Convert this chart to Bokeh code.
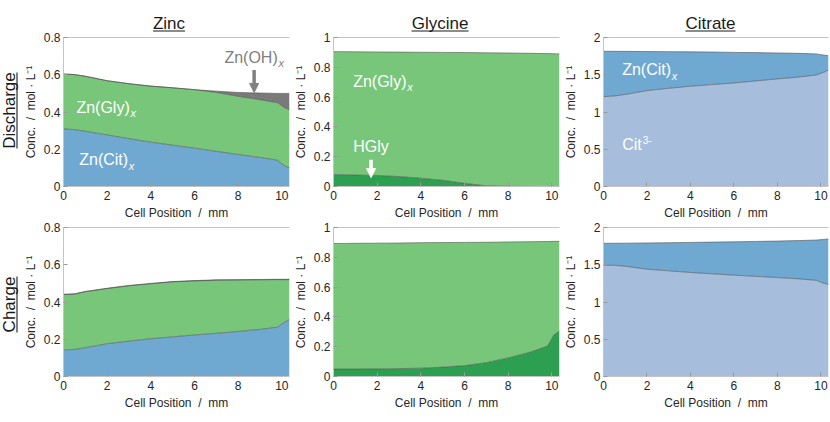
import numpy as np
from bokeh.plotting import figure
from bokeh.models import (ColumnDataSource, Range1d, FixedTicker, CustomJSTickFormatter,
                          Label, Arrow, NormalHead, LinearAxis)
from bokeh.layouts import row, column
from bokeh.transform import stack
from bokeh.core.properties import value
from bokeh.embed import file_html
from bokeh.resources import INLINE

# ---------------- data ----------------
cell_pos = [0, 0.5, 1, 2, 3, 4, 5, 6, 7, 8, 9, 9.8, 10.1, 10.35]

# Zinc species, discharge
dis_zn_cit = [0.310, 0.305, 0.297, 0.277, 0.257, 0.238, 0.222, 0.206, 0.189, 0.172, 0.156, 0.141, 0.112, 0.100]
dis_zn_gly = [0.294, 0.296, 0.295, 0.291, 0.295, 0.301, 0.308, 0.314, 0.316, 0.312, 0.310, 0.309, 0.313, 0.312]
dis_zn_oh = [0.000, 0.000, 0.000, 0.000, 0.000, 0.000, 0.000, 0.000, 0.007, 0.021, 0.036, 0.050, 0.075, 0.088]
# Zinc species, charge
chg_zn_cit = [0.143, 0.145, 0.155, 0.176, 0.190, 0.203, 0.213, 0.223, 0.232, 0.242, 0.253, 0.265, 0.290, 0.305]
chg_zn_gly = [0.297, 0.297, 0.300, 0.296, 0.297, 0.295, 0.295, 0.290, 0.285, 0.276, 0.266, 0.255, 0.230, 0.215]
chg_zn_oh = [0.002, 0.002, 0.002, 0.002, 0.002, 0.002, 0.002, 0.002, 0.002, 0.002, 0.002, 0.002, 0.002, 0.002]

# Glycine species
dis_hgly = [0.080, 0.079, 0.077, 0.074, 0.067, 0.056, 0.042, 0.022, 0.004, 0.001, 0.000, 0.000, 0.000, 0.000]
dis_gly_zn = [0.825, 0.826, 0.827, 0.829, 0.835, 0.845, 0.858, 0.877, 0.893, 0.895, 0.894, 0.892, 0.891, 0.890]
chg_hgly = [0.050, 0.050, 0.050, 0.051, 0.053, 0.056, 0.063, 0.073, 0.093, 0.125, 0.163, 0.204, 0.280, 0.305]
chg_gly_zn = [0.843, 0.843, 0.844, 0.844, 0.843, 0.842, 0.836, 0.827, 0.808, 0.778, 0.742, 0.702, 0.627, 0.602]

# Citrate species
dis_cit3 = [1.206, 1.215, 1.235, 1.287, 1.318, 1.346, 1.368, 1.390, 1.417, 1.444, 1.470, 1.497, 1.530, 1.564]
dis_cit_zn = [0.609, 0.600, 0.579, 0.525, 0.492, 0.462, 0.437, 0.410, 0.380, 0.349, 0.317, 0.283, 0.235, 0.192]
chg_cit3 = [1.495, 1.492, 1.480, 1.440, 1.418, 1.396, 1.378, 1.360, 1.344, 1.328, 1.310, 1.290, 1.255, 1.234]
chg_cit_zn = [0.293, 0.297, 0.310, 0.353, 0.378, 0.404, 0.426, 0.448, 0.469, 0.490, 0.515, 0.542, 0.585, 0.612]

x_ticks = [0, 2, 4, 6, 8, 10]
zinc_ticks = [0, 0.2, 0.4, 0.6, 0.8]
gly_ticks = [0, 0.2, 0.4, 0.6, 0.8, 1]
cit_ticks = [0, 0.5, 1, 1.5, 2]

col_titles = ["Zinc", "Glycine", "Citrate"]
row_titles = ["Discharge", "Charge"]

# ---------------- style ----------------
FONT = "Liberation Sans"
C_BLUE = "#6fa8d0"
C_GREEN = "#78c679"
C_GRAY = "#7a7a7a"
C_DGREEN = "#2ca050"
C_LBLUE = "#a7bddc"
AX = "#c4c4c4"
TXT = "#262626"
NB = "\u00a0"

fmt = CustomJSTickFormatter(code="return String(Math.round(tick*100)/100);")


def panel(fields, data, colors, ymax, yticks, width, left, right, height, top, bottom, letter):
    src = ColumnDataSource(dict(x=cell_pos, **data))
    p = figure(width=width, height=height, x_range=Range1d(0, 10.35), y_range=Range1d(0, ymax),
               output_backend="svg", toolbar_location=None, title=None,
               min_border_left=left, min_border_right=right,
               min_border_top=top, min_border_bottom=bottom)
    p.outline_line_color = None
    p.grid.visible = False
    p.varea_stack(stackers=fields, x="x", color=colors, source=src)
    for i in range(len(fields)):
        p.line(x="x", y=stack(*fields[:i + 1]), source=src, line_color="#4a4a4a",
               line_width=0.7, line_alpha=0.8)
    p.xaxis.ticker = FixedTicker(ticks=x_ticks)
    p.yaxis.ticker = FixedTicker(ticks=yticks)
    p.yaxis.formatter = fmt
    p.xaxis.formatter = fmt
    for ax in (p.xaxis, p.yaxis):
        ax.major_tick_in = 4
        ax.major_tick_out = 0
        ax.minor_tick_line_color = None
        ax.major_tick_line_color = "#9a9a9a"
        ax.axis_line_color = AX
        ax.major_label_text_font = FONT
        ax.major_label_text_font_size = "12px"
        ax.major_label_text_color = TXT
        ax.axis_label_text_font = FONT
        ax.axis_label_text_font_size = "12px"
        ax.axis_label_text_font_style = "normal"
        ax.axis_label_text_color = TXT
    p.xaxis.major_label_standoff = 4
    p.yaxis.major_label_standoff = 3
    p.xaxis.axis_label_standoff = 3
    p.yaxis.axis_label_standoff = 3
    p.xaxis.axis_label = "Cell Position " + NB + "/" + NB + " mm"
    p.yaxis.axis_label = "Conc. " + NB + "/" + NB + " mol · L⁻¹"
    top_ax = LinearAxis(ticker=FixedTicker(ticks=[]), axis_line_color=AX, major_tick_in=0,
                        major_tick_out=0, major_label_standoff=0, minor_tick_line_color=None)
    p.add_layout(top_ax, "above")
    p.add_layout(Label(x=-21, y=ymax, x_units="screen", y_units="data", text=letter,
                       text_align="right", text_baseline="middle", text_font=FONT,
                       text_font_size="12px", text_color=TXT))
    return p


def species_label(p, x, y, main, color, sub=None, sup=None, off=0):
    p.text(x=[x], y=[y], text=[main], text_align="left", text_baseline="middle",
           text_font=value(FONT), text_font_size="16px", text_color=color)
    if sub:
        p.text(x=[x], y=[y], text=[sub], x_offset=off, y_offset=6, text_align="left",
               text_baseline="middle", text_font=value(FONT), text_font_size="11px",
               text_font_style="italic", text_color=color)
    if sup:
        p.text(x=[x], y=[y], text=[sup], x_offset=off, y_offset=-5, text_align="left",
               text_baseline="middle", text_font=value(FONT), text_font_size="10px",
               text_color=color)


HDR_H, TOP_H, BOT_H = 32, 190, 198
W = 270

pa = panel(["zn_cit", "zn_gly", "zn_oh"], dict(zn_cit=dis_zn_cit, zn_gly=dis_zn_gly, zn_oh=dis_zn_oh),
           [C_BLUE, C_GREEN, C_GRAY], 0.8, zinc_ticks, W, 41, 1, TOP_H, 5, 36, "(a)")
pb = panel(["zn_cit", "zn_gly", "zn_oh"], dict(zn_cit=chg_zn_cit, zn_gly=chg_zn_gly, zn_oh=chg_zn_oh),
           [C_BLUE, C_GREEN, C_GRAY], 0.8, zinc_ticks, W, 41, 1, BOT_H, 5, 44, "(b)")
pc = panel(["hgly", "zn_gly"], dict(hgly=dis_hgly, zn_gly=dis_gly_zn),
           [C_DGREEN, C_GREEN], 1, gly_ticks, W, 40, 1, TOP_H, 5, 36, "(c)")
pd = panel(["hgly", "zn_gly"], dict(hgly=chg_hgly, zn_gly=chg_gly_zn),
           [C_DGREEN, C_GREEN], 1, gly_ticks, W, 40, 1, BOT_H, 5, 44, "(d)")
pe = panel(["cit3", "zn_cit"], dict(cit3=dis_cit3, zn_cit=dis_cit_zn),
           [C_LBLUE, C_BLUE], 2, cit_ticks, W, 39, 2, TOP_H, 5, 36, "(e)")
pf = panel(["cit3", "zn_cit"], dict(cit3=chg_cit3, zn_cit=chg_cit_zn),
           [C_LBLUE, C_BLUE], 2, cit_ticks, W, 39, 2, BOT_H, 5, 44, "(f)")

species_label(pa, 0.59, 0.425, "Zn(Gly)", "white", sub="x", off=54)
species_label(pa, 0.72, 0.144, "Zn(Cit)", "white", sub="x", off=49.5)
species_label(pa, 7.37, 0.695, "Zn(OH)", "#808080", sub="x", off=54)
pa.add_layout(Arrow(end=NormalHead(size=9, fill_color="#808080", line_color="#808080"),
                    x_start=8.73, y_start=0.625, x_end=8.73, y_end=0.505,
                    line_color="#808080", line_width=3.5))

species_label(pc, 0.9, 0.705, "Zn(Gly)", "white", sub="x", off=54)
species_label(pc, 0.9, 0.268, "HGly", "white")
pc.add_layout(Arrow(end=NormalHead(size=9, fill_color="white", line_color="white"),
                    x_start=1.72, y_start=0.18, x_end=1.72, y_end=0.06,
                    line_color="white", line_width=3.5))

species_label(pe, 0.86, 1.565, "Zn(Cit)", "white", sub="x", off=49.5)
species_label(pe, 0.86, 0.559, "Cit", "white", sup="3-", off=20.5)

# ---------------- header (column titles) ----------------
TOTAL_W = 20 + 3 * W
hdr = figure(width=TOTAL_W, height=HDR_H, x_range=Range1d(0, TOTAL_W), y_range=Range1d(0, HDR_H),
             min_border=0, x_axis_location=None, y_axis_location=None, title=None,
             output_backend="svg", toolbar_location=None)
hdr.outline_line_color = None
hdr.grid.visible = False
cx = [168.5, 439.5, 710]
wd = [32, 57, 50]
hdr.text(x=cx, y=[9.5] * 3, text=col_titles, text_align="center", text_baseline="middle",
         text_font=value(FONT), text_font_size="17px", text_color="#1a1a1a")
hdr.segment(x0=[c - w / 2 for c, w in zip(cx, wd)], x1=[c + w / 2 for c, w in zip(cx, wd)],
            y0=[1.5] * 3, y1=[1.5] * 3, line_color="#1a1a1a", line_width=1.1)

# ---------------- row titles ----------------
RL_H = TOP_H + BOT_H
rl = figure(width=20, height=RL_H, x_range=Range1d(0, 20), y_range=Range1d(0, RL_H),
            min_border=0, x_axis_location=None, y_axis_location=None, title=None,
            output_backend="svg", toolbar_location=None)
rl.outline_line_color = None
rl.grid.visible = False
ry = [RL_H + HDR_H - 110, RL_H + HDR_H - 304]
rw = [76, 56]
rl.text(x=[8.5, 8.5], y=ry, text=row_titles, angle=np.pi / 2, text_align="center",
        text_baseline="middle", text_font=value(FONT), text_font_size="17px", text_color="#1a1a1a")
rl.segment(x0=[16.5, 16.5], x1=[16.5, 16.5], y0=[y - w / 2 for y, w in zip(ry, rw)],
           y1=[y + w / 2 for y, w in zip(ry, rw)], line_color="#1a1a1a", line_width=1.1)

layout = column(hdr, row(rl, column(row(pa, pc, pe), row(pb, pd, pf))))

open("out.html", "w").write(file_html(layout, INLINE))
